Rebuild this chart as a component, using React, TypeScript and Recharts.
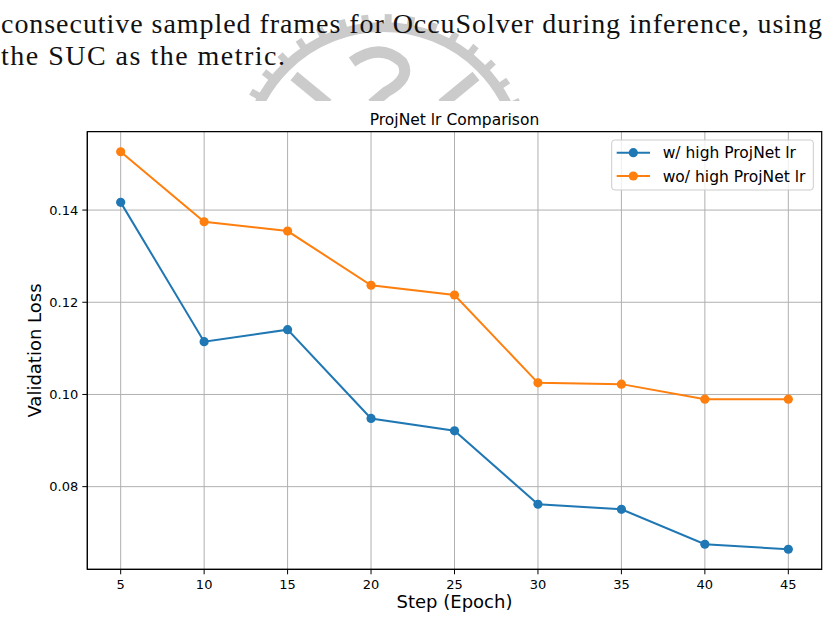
import React from 'react';
import { LineChart, Line, XAxis, YAxis, CartesianGrid, ReferenceArea } from 'recharts';

const steps = [5, 10, 15, 20, 25, 30, 35, 40, 45];
const withHighLr = [0.14167, 0.11145, 0.11405, 0.09479, 0.09212, 0.07618, 0.07509, 0.0675, 0.06642];
const withoutHighLr = [0.15265, 0.13746, 0.13544, 0.12369, 0.12158, 0.10252, 0.10224, 0.09898, 0.09898];
const xTicks = [5, 10, 15, 20, 25, 30, 35, 40, 45];
const yTicks = [0.08, 0.1, 0.12, 0.14];
const seriesNames = ['w/ high ProjNet lr', 'wo/ high ProjNet lr'];
const seriesColors = ['#1f77b4', '#ff7f0e'];
const docLines = [
  'consecutive sampled frames for OccuSolver during inference, using',
  'the SUC as the metric.',
];

const X_DOMAIN: [number, number] = [3, 47];
const Y_DOMAIN: [number, number] = [0.06207, 0.157];
const FONT = '"DejaVu Sans", sans-serif';
const WM = '#cbcbcb';

const data = steps.map((s, i) => ({ step: s, hi: withHighLr[i], lo: withoutHighLr[i] }));

// faint emblem behind the page text
function Watermark() {
  const cx = 383;
  const cy = 165;
  const r = 138;
  const teeth = [];
  for (let a = 200; a <= 340; a += 9) {
    teeth.push(
      <rect
        key={a}
        x={-3.5}
        y={-r - 13}
        width={7}
        height={10}
        fill={WM}
        transform={`translate(${cx},${cy}) rotate(${a + 90})`}
      />
    );
  }
  return (
    <g clipPath="url(#wmclip)">
      <circle cx={cx} cy={cy} r={r} fill="none" stroke={WM} strokeWidth={10} />
      {teeth}
      <path d="M352,62 Q380,42 402,62 Q412,78 386,92 L372,104" fill="none" stroke={WM} strokeWidth={11} />
      <path d="M294,76 L328,104" stroke={WM} strokeWidth={11} />
      <path d="M476,76 L442,104" stroke={WM} strokeWidth={11} />
    </g>
  );
}

export default function App() {
  return (
    <div style={{ position: 'absolute', left: 0, top: 0, width: 829, height: 621, background: '#fff' }}>
      <svg width={829} height={621} style={{ position: 'absolute', left: 0, top: 0 }}>
        <defs>
          <clipPath id="wmclip">
            <rect x={0} y={0} width={829} height={101} />
          </clipPath>
        </defs>
        <Watermark />
        <text x={1} y={33} fontFamily='"Liberation Serif", serif' fontSize={28} fill="#111" textLength={821} lengthAdjust="spacing">
          {docLines[0]}
        </text>
        <text x={1} y={65} fontFamily='"Liberation Serif", serif' fontSize={28} fill="#111" textLength={284} lengthAdjust="spacing">
          {docLines[1]}
        </text>
        <text x={454.5} y={125} textAnchor="middle" fontFamily={FONT} fontSize={15.5} fill="#000">
          ProjNet lr Comparison
        </text>
        <text x={454.5} y={608.3} textAnchor="middle" fontFamily={FONT} fontSize={18} fill="#000">
          Step (Epoch)
        </text>
        <text transform="translate(41,350.5) rotate(-90)" textAnchor="middle" fontFamily={FONT} fontSize={18} fill="#000">
          Validation Loss
        </text>
      </svg>

      <div style={{ position: 'absolute', left: 0, top: 0 }}>
        <LineChart width={829} height={621} data={data} margin={{ top: 131.7, right: 7.3, bottom: 0, left: 0 }}>
          <CartesianGrid stroke="#b0b0b0" strokeWidth={1} horizontalValues={yTicks} verticalValues={xTicks} />
          <XAxis
            dataKey="step"
            type="number"
            domain={X_DOMAIN}
            ticks={xTicks}
            allowDataOverflow
            height={51.7}
            tickSize={5}
            tickMargin={5}
            stroke="#000"
            tick={{ fill: '#000', fontSize: 13, fontFamily: FONT }}
          />
          <YAxis
            type="number"
            domain={Y_DOMAIN}
            ticks={yTicks}
            allowDataOverflow
            width={87.3}
            tickSize={5}
            tickMargin={4}
            stroke="#000"
            tickFormatter={(v: number) => v.toFixed(2)}
            tick={{ fill: '#000', fontSize: 13, fontFamily: FONT }}
          />
          <ReferenceArea
            x1={X_DOMAIN[0]}
            x2={X_DOMAIN[1]}
            y1={Y_DOMAIN[0]}
            y2={Y_DOMAIN[1]}
            fill="none"
            fillOpacity={0}
            stroke="#000"
            strokeWidth={1.2}
          />
          <Line
            type="linear"
            dataKey="hi"
            stroke={seriesColors[0]}
            strokeWidth={2}
            dot={{ r: 4.6, fill: seriesColors[0], stroke: seriesColors[0], strokeWidth: 0 }}
            activeDot={false}
            isAnimationActive={false}
          />
          <Line
            type="linear"
            dataKey="lo"
            stroke={seriesColors[1]}
            strokeWidth={2}
            dot={{ r: 4.6, fill: seriesColors[1], stroke: seriesColors[1], strokeWidth: 0 }}
            activeDot={false}
            isAnimationActive={false}
          />
        </LineChart>
      </div>

      <svg width={829} height={621} style={{ position: 'absolute', left: 0, top: 0, pointerEvents: 'none' }}>
        <rect x={611.7} y={140} width={201.6} height={50} rx={3} fill="#fff" fillOpacity={0.8} stroke="#cccccc" strokeWidth={1} />
        {seriesNames.map((name, i) => {
          const cy = 152.7 + i * 23.3;
          return (
            <g key={name}>
              <line x1={616.7} x2={650} y1={cy} y2={cy} stroke={seriesColors[i]} strokeWidth={2} />
              <circle cx={633.3} cy={cy} r={4.6} fill={seriesColors[i]} />
              <text x={662.7} y={cy} dy="0.36em" fontFamily={FONT} fontSize={15.5} fill="#000">
                {name}
              </text>
            </g>
          );
        })}
      </svg>
    </div>
  );
}
